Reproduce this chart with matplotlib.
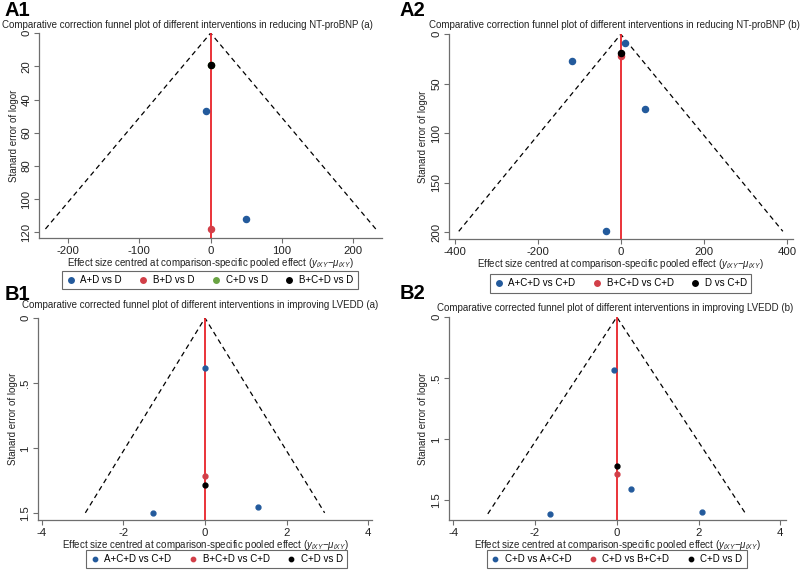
import numpy as np
import matplotlib.pyplot as plt

plt.rcParams['font.family'] = ['Liberation Sans', 'DejaVu Sans']
plt.rcParams['mathtext.fontset'] = 'custom'
plt.rcParams['mathtext.it'] = 'Liberation Sans:italic'
plt.rcParams['mathtext.rm'] = 'Liberation Sans'
plt.rcParams['axes.unicode_minus'] = False

BLUE = '#235a9c'
RED = '#d23f48'
GREEN = '#6aa443'
BLACK = '#000000'
GREY = '#6e6e6e'

# ---- data ----
# A1: NT-proBNP (a)
a1_labels = ['A+D vs D', 'B+D vs D', 'C+D vs D', 'B+C+D vs D']
a1_x = [[-7, 49], [0], [0], [0]]
a1_se = [[47, 112], [118], [19], [19]]
a1_colors = [BLUE, RED, GREEN, BLACK]

# A2: NT-proBNP (b)
a2_labels = ['A+C+D vs C+D', 'B+C+D vs C+D', 'D vs C+D']
a2_x = [[10, -117, 59, -36], [0], [0]]
a2_se = [[8.5, 27.5, 75.5, 199], [21.5], [19]]
a2_colors = [BLUE, RED, BLACK]

# B1: LVEDD (a)
b1_labels = ['A+C+D vs C+D', 'B+C+D vs C+D', 'C+D vs D']
b1_x = [[0, -1.28, 1.31], [0], [0]]
b1_se = [[0.385, 1.495, 1.45], [1.215], [1.285]]
b1_colors = [BLUE, RED, BLACK]

# B2: LVEDD (b)
b2_labels = ['C+D vs A+C+D', 'C+D vs B+C+D', 'C+D vs D']
b2_x = [[-0.06, 0.34, -1.63, 2.08], [0], [0]]
b2_se = [[0.43, 1.41, 1.61, 1.595], [1.285], [1.215]]
b2_colors = [BLUE, RED, BLACK]

xlab = r'Effect size centred at comparison-specific pooled effect ($y_{iXY}$$-$$\mu_{iXY}$)'
ylab = 'Stanard error of logor'

panels = [
    dict(tag='A1', labels=a1_labels, x=a1_x, se=a1_se, colors=a1_colors,
         title='Comparative correction funnel plot of different interventions in reducing NT-proBNP (a)',
         rect=[0.049, 0.583, 0.4285, 0.359], xlim=(-240, 240), ylim=(123.5, 0),
         xticks=[-200, -100, 0, 100, 200], yticks=[0, 20, 40, 60, 80, 100, 120],
         yticklabels=None, ms=4.4, tagpos=(0.006, 0.999), titlepos=(0.234, 0.957),
         legpos=(0.2625, 0.5096)),
    dict(tag='A2', labels=a2_labels, x=a2_x, se=a2_se, colors=a2_colors,
         title='Comparative correction funnel plot of different interventions in reducing NT-proBNP (b)',
         rect=[0.561, 0.581, 0.43, 0.359], xlim=(-414, 414), ylim=(207, 0),
         xticks=[-400, -200, 0, 200, 400], yticks=[0, 50, 100, 150, 200],
         yticklabels=None, ms=4.4, tagpos=(0.499, 0.999), titlepos=(0.768, 0.957),
         legpos=(0.776, 0.504)),
    dict(tag='B1', labels=b1_labels, x=b1_x, se=b1_se, colors=b1_colors,
         title='Comparative corrected funnel plot of different interventions in improving LVEDD (a)',
         rect=[0.0475, 0.0893, 0.4175, 0.3537], xlim=(-4.09, 4.09), ylim=(1.55, 0),
         xticks=[-4, -2, 0, 2, 4], yticks=[0, 0.5, 1, 1.5],
         yticklabels=['0', '.5', '1', '1.5'], ms=3.5, tagpos=(0.006, 0.501),
         titlepos=(0.25, 0.466), legpos=(0.271, 0.021)),
    dict(tag='B2', labels=b2_labels, x=b2_x, se=b2_se, colors=b2_colors,
         title='Comparative corrected funnel plot of different interventions in improving LVEDD (b)',
         rect=[0.561, 0.0893, 0.4215, 0.3554], xlim=(-4.11, 4.14), ylim=(1.66, 0),
         xticks=[-4, -2, 0, 2, 4], yticks=[0, 0.5, 1, 1.5],
         yticklabels=['0', '.5', '1', '1.5'], ms=3.5, tagpos=(0.499, 0.502),
         titlepos=(0.769, 0.461), legpos=(0.771, 0.021)),
]

fig = plt.figure(figsize=(8, 5.71), dpi=100)

for p in panels:
    ax = fig.add_axes(p['rect'])
    semax = max(max(s) for s in p['se'])
    # pseudo 95% limits
    ax.plot([-1.96 * semax, 0, 1.96 * semax], [semax, 0, semax],
            ls=(0, (4, 3)), color='black', lw=0.9, zorder=2)
    ax.axvline(0, color='#e8232a', lw=1.3, zorder=3)
    for lab, xs, ss, c in zip(p['labels'], p['x'], p['se'], p['colors']):
        ax.plot(xs, ss, 'o', color=c, ms=p['ms'], mec=c, ls='none', label=lab, zorder=4)

    ax.set_xlim(p['xlim'])
    ax.set_ylim(p['ylim'])
    ax.set_xticks(p['xticks'])
    ax.set_yticks(p['yticks'])
    if p['yticklabels'] is not None:
        ax.set_yticklabels(p['yticklabels'])
    for lbl in ax.get_yticklabels():
        lbl.set_rotation(90)
        lbl.set_va('center')
    for s in ['top', 'right']:
        ax.spines[s].set_visible(False)
    for s in ['left', 'bottom']:
        ax.spines[s].set_color(GREY)
        ax.spines[s].set_linewidth(0.9)
    ax.tick_params(colors=GREY, labelcolor='#222222', labelsize=8.2, length=3.5, width=0.8, pad=2)
    ax.set_xlabel(xlab, fontsize=7, color='#222222', labelpad=0)
    ax.set_ylabel(ylab, fontsize=7, color='#222222', labelpad=2)

    fig.text(p['titlepos'][0], p['titlepos'][1], p['title'], fontsize=7,
             ha='center', va='center', color='#222222')
    fig.text(p['tagpos'][0], p['tagpos'][1], p['tag'], fontsize=14.5, fontweight='bold',
             ha='left', va='top')

    leg = fig.legend(*ax.get_legend_handles_labels(), loc='center',
                     bbox_to_anchor=p['legpos'], ncol=len(p['labels']), fontsize=7,
                     frameon=True, fancybox=False, edgecolor='#444444', handlelength=0.8,
                     handletextpad=0.6, columnspacing=1.8, borderpad=0.45, markerscale=0.9)
    leg.get_frame().set_linewidth(0.8)

fig.savefig('out.png', dpi=100)
